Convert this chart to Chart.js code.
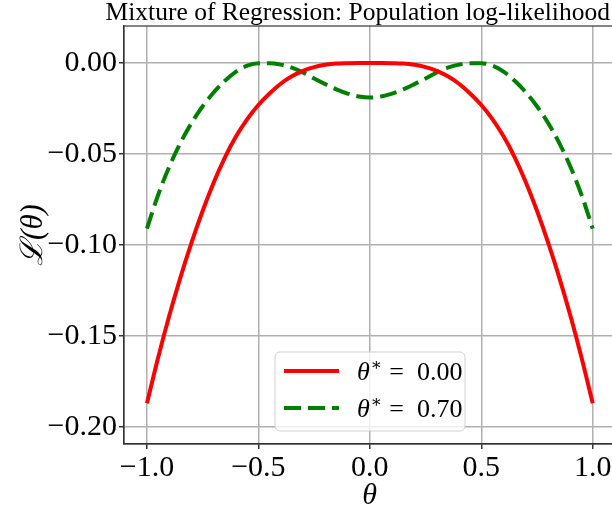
<!DOCTYPE html>
<html>
<head>
<meta charset="utf-8">
<script src="https://cdn.jsdelivr.net/npm/chart.js@4.4.1/dist/chart.umd.min.js"></script>
<style>
  body { margin: 0; overflow: hidden; background: #fff; }
  canvas { display: block; }
</style>
</head>
<body>
<canvas id="ll" width="620" height="506"></canvas>
<script>
// theta grid and the two population log-likelihood curves
var theta = [-1.00, -0.95, -0.90, -0.85, -0.80, -0.75, -0.70, -0.65, -0.60, -0.55, -0.50,
             -0.45, -0.40, -0.35, -0.30, -0.25, -0.20, -0.15, -0.10, -0.05, 0.00,
             0.05, 0.10, 0.15, 0.20, 0.25, 0.30, 0.35, 0.40, 0.45, 0.50,
             0.55, 0.60, 0.65, 0.70, 0.75, 0.80, 0.85, 0.90, 0.95, 1.00];
var llStar000 = [-0.1869, -0.1619, -0.1389, -0.1179, -0.0987, -0.0812, -0.0655, -0.0518, -0.0403, -0.0308, -0.0231,
                 -0.0168, -0.0114, -0.0073, -0.0043, -0.0023, -0.0010, -0.0003, -0.0001, 0, 0,
                 0, -0.0001, -0.0003, -0.0010, -0.0023, -0.0043, -0.0073, -0.0114, -0.0168, -0.0231,
                 -0.0308, -0.0403, -0.0518, -0.0655, -0.0812, -0.0987, -0.1179, -0.1389, -0.1619, -0.1869];
var llStar070 = [-0.0910, -0.0725, -0.0570, -0.0440, -0.0330, -0.0238, -0.0161, -0.0098, -0.0048, -0.0015, -0.0001,
                 -0.0001, -0.0009, -0.0026, -0.0052, -0.0085, -0.0116, -0.0145, -0.0168, -0.0184, -0.0190,
                 -0.0184, -0.0168, -0.0145, -0.0116, -0.0085, -0.0052, -0.0026, -0.0009, -0.0001, -0.0001,
                 -0.0015, -0.0048, -0.0098, -0.0161, -0.0238, -0.0330, -0.0440, -0.0570, -0.0725, -0.0910];
var thetaStars = ["0.00", "0.70"];
var xTicks = [-1.0, -0.5, 0.0, 0.5, 1.0];
var yTicks = [0.00, -0.05, -0.10, -0.15, -0.20];

var serif = "'Liberation Serif', 'DejaVu Serif', serif";

function pts(ys) {
    return theta.map(function (t, i) { return { x: t, y: ys[i] }; });
}
function minusFmt(v, d) {
    var s = Math.abs(v).toFixed(d);
    return (v < -1e-9 ? "\u2212" : "") + s;
}

// legend inside the axes, lower centre, plus the top spine
var boxLegend = {
    id: 'boxLegend',
    afterDraw: function (chart) {
        var c = chart.ctx, a = chart.chartArea;
        c.save();
        c.strokeStyle = '#333';
        c.lineWidth = 1.2;
        c.strokeRect(a.left, a.top, a.right - a.left, a.bottom - a.top);

        var bx = 275, by = 352, bw = 190, bh = 79, r = 5;
        c.beginPath();
        c.moveTo(bx + r, by);
        c.arcTo(bx + bw, by, bx + bw, by + bh, r);
        c.arcTo(bx + bw, by + bh, bx, by + bh, r);
        c.arcTo(bx, by + bh, bx, by, r);
        c.arcTo(bx, by, bx + bw, by, r);
        c.closePath();
        c.fillStyle = 'rgba(255,255,255,0.8)';
        c.fill();
        c.strokeStyle = '#d0d0d0';
        c.lineWidth = 1;
        c.stroke();

        chart.data.datasets.forEach(function (ds, i) {
            var y = 371 + i * 37;
            c.beginPath();
            c.strokeStyle = ds.borderColor;
            c.lineWidth = ds.borderWidth;
            c.setLineDash(ds.borderDash || []);
            c.moveTo(284, y);
            c.lineTo(339, y);
            c.stroke();
            c.setLineDash([]);

            c.fillStyle = '#000';
            c.textBaseline = 'alphabetic';
            var base = y + 9, x = 357;
            c.font = 'italic 26px ' + serif;
            c.fillText('\u03b8', x, base);
            x += c.measureText('\u03b8').width;
            c.font = '17px ' + serif;
            c.fillText('\u2217', x + 1, base - 10);
            x += 13;
            c.font = '26px ' + serif;
            c.fillText(' =  ' + thetaStars[i], x, base);
        });
        c.restore();
    }
};

var ctx = document.getElementById('ll').getContext('2d');
var chart = new Chart(ctx, {
    type: 'line',
    data: {
        datasets: [{
            label: '\u03b8* = ' + thetaStars[0],
            data: pts(llStar000),
            borderColor: '#ff0000',
            borderWidth: 4,
            pointRadius: 0,
            cubicInterpolationMode: 'monotone'
        }, {
            label: '\u03b8* = ' + thetaStars[1],
            data: pts(llStar070),
            borderColor: '#008000',
            borderWidth: 4,
            borderDash: [17, 7],
            pointRadius: 0,
            cubicInterpolationMode: 'monotone'
        }]
    },
    options: {
        responsive: false,
        animation: false,
        layout: { padding: { left: 0, right: 5, top: 0, bottom: 0 } },
        plugins: {
            legend: { display: false },
            tooltip: { enabled: false },
            title: {
                display: true,
                align: 'end',
                text: 'Mixture of Regression: Population log-likelihood\u2009',
                color: '#000',
                font: { family: serif, size: 25.5, weight: 'normal', lineHeight: 1.02 },
                padding: { top: 0, bottom: 0 }
            }
        },
        scales: {
            x: {
                type: 'linear',
                min: -1.103,
                max: 1.1,
                afterBuildTicks: function (s) { s.ticks = xTicks.map(function (v) { return { value: v }; }); },
                afterFit: function (s) { s.height = 62; },
                ticks: {
                    color: '#000',
                    padding: 1,
                    maxRotation: 0,
                    font: { family: serif, size: 30 },
                    callback: function (v) { return minusFmt(v, 1); }
                },
                grid: { color: '#b0b0b0', lineWidth: 1.5, tickLength: 5, tickColor: '#333' },
                border: { display: true, color: '#333', width: 1.2 },
                title: {
                    display: true,
                    text: '\u03b8',
                    color: '#000',
                    font: { family: serif, size: 30, style: 'italic', lineHeight: 1.0 },
                    padding: { top: 0, bottom: -5 }
                }
            },
            y: {
                min: -0.2093,
                max: 0.0203,
                afterBuildTicks: function (s) { s.ticks = yTicks.map(function (v) { return { value: v }; }); },
                afterFit: function (s) { s.width = 124; },
                ticks: {
                    color: '#000',
                    padding: 2,
                    font: { family: serif, size: 30 },
                    callback: function (v) { return minusFmt(v, 2); }
                },
                grid: { color: '#b0b0b0', lineWidth: 1.5, tickLength: 5, tickColor: '#333' },
                border: { display: true, color: '#333', width: 1.2 },
                title: {
                    display: true,
                    text: '\u2112(\u03b8)',
                    color: '#000',
                    font: { family: serif, size: 31, style: 'italic', lineHeight: 1.0 },
                    padding: { top: 18, bottom: 0 }
                }
            }
        }
    },
    plugins: [boxLegend]
});
</script>
</body>
</html>
